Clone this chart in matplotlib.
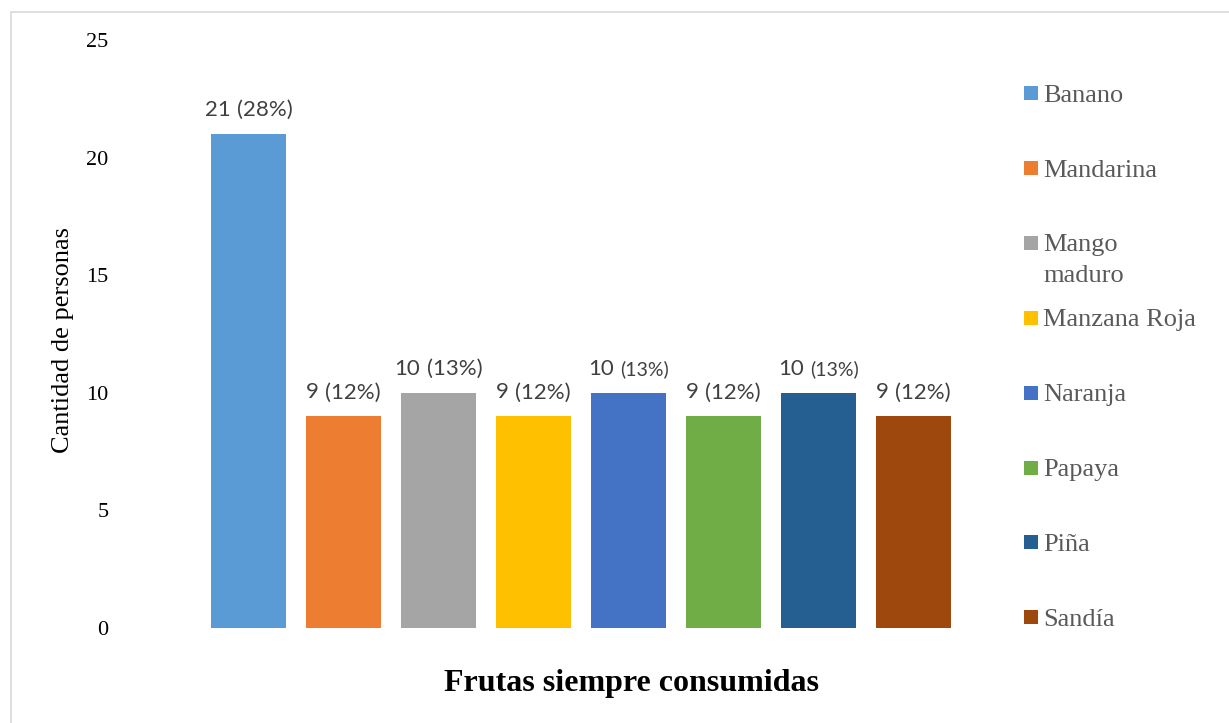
import matplotlib
matplotlib.use("Agg")
import matplotlib.pyplot as plt
from matplotlib.patches import Rectangle
from matplotlib.offsetbox import TextArea, HPacker, AnnotationBbox

# Data
categories = ["Banano", "Mandarina", "Mango maduro", "Manzana Roja",
              "Naranja", "Papaya", "Piña", "Sandía"]
legend_labels = ["Banano", "Mandarina", "Mango\nmaduro", "Manzana Roja",
                 "Naranja", "Papaya", "Piña", "Sandía"]
counts = [21, 9, 10, 9, 10, 9, 10, 9]
percents = [28, 12, 13, 12, 13, 12, 13, 12]
colors = ["#5B9BD5", "#ED7D31", "#A5A5A5", "#FFC000",
          "#4472C4", "#70AD47", "#255E91", "#9E480E"]
y_ticks = [0, 5, 10, 15, 20, 25]
small_pct = {4, 6}  # labels whose percentage part is set in a smaller size

plt.rcParams["font.family"] = ["Liberation Serif", "DejaVu Serif"]

W, H = 1229, 723
fig = plt.figure(figsize=(W / 100, H / 100), dpi=100)


def fx(px):
    return px / W


def fy(py):
    return 1 - py / H


# Light frame around the chart area
fig.add_artist(Rectangle((fx(11), -0.2), 2.0, fy(12) + 0.2,
                         transform=fig.transFigure, facecolor="none",
                         edgecolor="#D9D9D9", linewidth=1.2))

# Plot area
left_px, right_px, top_px, bottom_px = 125, 1000, 40, 628
ax = fig.add_axes([fx(left_px), fy(bottom_px),
                   (right_px - left_px) / W, (bottom_px - top_px) / H])
ax.patch.set_alpha(0)

xpos = list(range(len(categories)))
ax.bar(xpos, counts, width=75 / 95, color=colors, label=categories)
ax.set_xlim(-1.3, -1.3 + (right_px - left_px) / 95)
ax.set_ylim(0, 25)
ax.set_yticks(y_ticks)
ax.set_xticks([])
for s in ax.spines.values():
    s.set_visible(False)
ax.tick_params(axis="y", length=0, pad=12, labelsize=16, labelcolor="black")

# Value labels: count plus share in parentheses
label_color = "#404040"
for i, (v, p) in enumerate(zip(counts, percents)):
    pct_size = 14 if i in small_pct else 16
    parts = [TextArea(f"{v}", textprops=dict(family="Lato", size=16, color=label_color)),
             TextArea(f"({p}%)", textprops=dict(family="Lato", size=pct_size, color=label_color))]
    box = HPacker(children=parts, align="baseline", pad=0, sep=4.5)
    ab = AnnotationBbox(box, (i, v), xybox=(0, 10), xycoords="data",
                        boxcoords="offset points", frameon=False,
                        box_alignment=(0.5, 0), pad=0)
    ax.add_artist(ab)

# Axis titles
ax.set_ylabel("Cantidad de personas", fontsize=19, color="black", va="center", ha="center")
ax.yaxis.set_label_coords((63 - left_px) / (right_px - left_px),
                          (bottom_px - 340) / (bottom_px - top_px))
ax.set_xlabel("Frutas siempre consumidas", fontsize=23, fontweight="bold",
              color="black", va="center", ha="center")
ax.xaxis.set_label_coords((632 - left_px) / (right_px - left_px),
                          (bottom_px - 684) / (bottom_px - top_px))

# Legend on the right; wrapped entries keep the swatch on the first line
first_cy, step, line_gap = 93, 74.9, 31
for k, (lab, c) in enumerate(zip(legend_labels, colors)):
    cy = first_cy + step * k
    fig.add_artist(Rectangle((fx(1024), fy(cy + 7)), 14 / W, 14 / H,
                             transform=fig.transFigure, facecolor=c, edgecolor="none"))
    for j, line in enumerate(lab.split("\n")):
        fig.text(fx(1043), fy(cy + 8.7 + line_gap * j), line, ha="left", va="baseline",
                 fontsize=19, color="#595959")

fig.savefig("out.png", dpi=100)
